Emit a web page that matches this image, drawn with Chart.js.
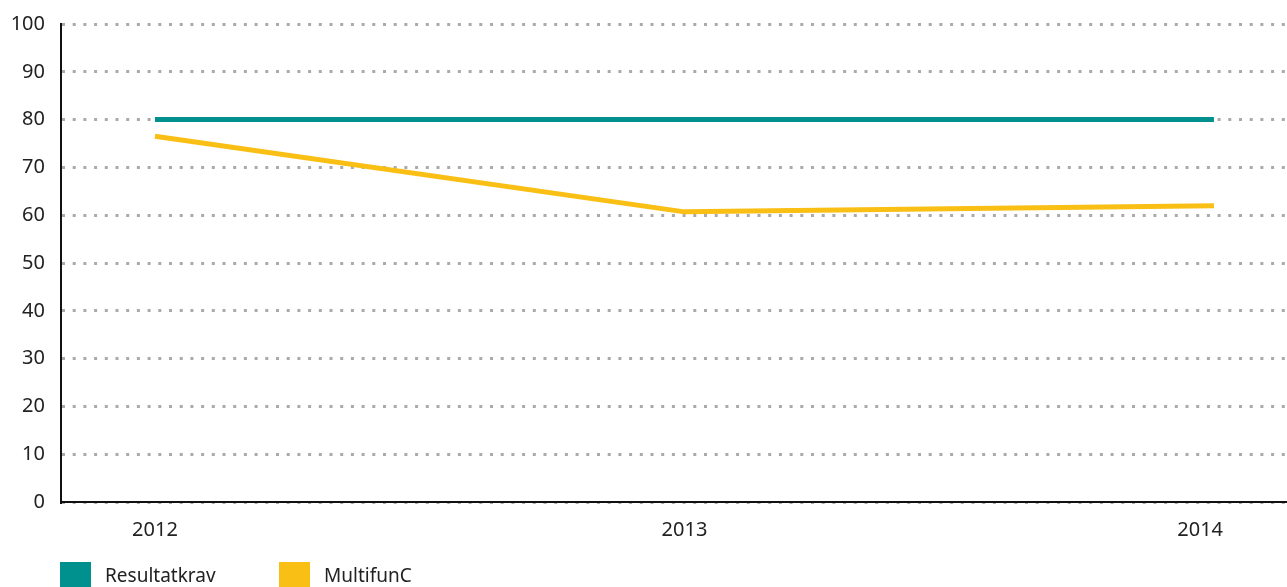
<!DOCTYPE html>
<html>
<head>
<meta charset="utf-8">
<script src="https://cdn.jsdelivr.net/npm/chart.js@4/dist/chart.umd.min.js"></script>
<style>
html,body{margin:0;padding:0;background:#fff;overflow:hidden;}
#wrap{position:relative;width:1287px;height:587px;}
#c{position:absolute;left:0;top:0;}
.leg{position:absolute;top:562px;height:25px;font-family:"Noto Sans",sans-serif;font-size:19px;color:#222;display:flex;align-items:center;}
.leg span.b{display:inline-block;width:31px;height:25px;margin-right:14px;}
</style>
</head>
<body>
<div id="wrap">
<canvas id="c" width="1287" height="587"></canvas>
<div class="leg" style="left:60px;"><span class="b" style="background:#00918e"></span><span>Resultatkrav</span></div>
<div class="leg" style="left:279px;"><span class="b" style="background:#f9bf15"></span><span>MultifunC</span></div>
</div>
<script>
const years = [2012, 2013, 2014];
const yearLabels = ['2012', '2013', '2014'];
const resultatkrav = [80, 80, 80];
const multifunC = [76.5, 60.7, 62];
const yTicks = [0,10,20,30,40,50,60,70,80,90,100];

const pts = arr => years.map((y, i) => ({x: y, y: arr[i]}));
// the last year label sits slightly inward in the reference
const labelShift = [0, 0, -0.026];

new Chart(document.getElementById('c'), {
  type: 'line',
  data: {
    datasets: [
      {label: 'Resultatkrav', data: pts(resultatkrav), borderColor: '#00918e', backgroundColor: '#00918e', borderWidth: 5, pointRadius: 0, tension: 0},
      {label: 'MultifunC', data: pts(multifunC), borderColor: '#f9bf15', backgroundColor: '#f9bf15', borderWidth: 5, pointRadius: 0, tension: 0}
    ]
  },
  options: {
    responsive: false,
    animation: false,
    layout: {padding: {top: 24, right: 0, bottom: 37, left: 0}},
    plugins: {legend: {display: false}, tooltip: {enabled: false}},
    scales: {
      x: {
        type: 'linear',
        min: 2011.8225,
        max: 2014.138,
        afterBuildTicks: s => { s.ticks = years.map((v, i) => ({value: v + labelShift[i]})); },
        ticks: {callback: (v, i) => yearLabels[i], color: '#222', font: {family: 'Noto Sans', size: 20}, padding: 8, maxRotation: 0},
        grid: {display: false},
        border: {display: true, color: '#111', width: 2}
      },
      y: {
        min: 0, max: 100,
        afterBuildTicks: s => { s.ticks = yTicks.map(v => ({value: v})); },
        afterFit: s => { s.width = 61; s.paddingTop = 0; s.paddingBottom = 0; },
        ticks: {color: '#222', font: {family: 'Noto Sans', size: 20}, padding: 16},
        grid: {color: '#aaaaaa', lineWidth: 3, drawTicks: false},
        border: {display: true, color: '#111', width: 2, dash: [3, 7.7]}
      }
    }
  }
});
</script>
</body>
</html>
